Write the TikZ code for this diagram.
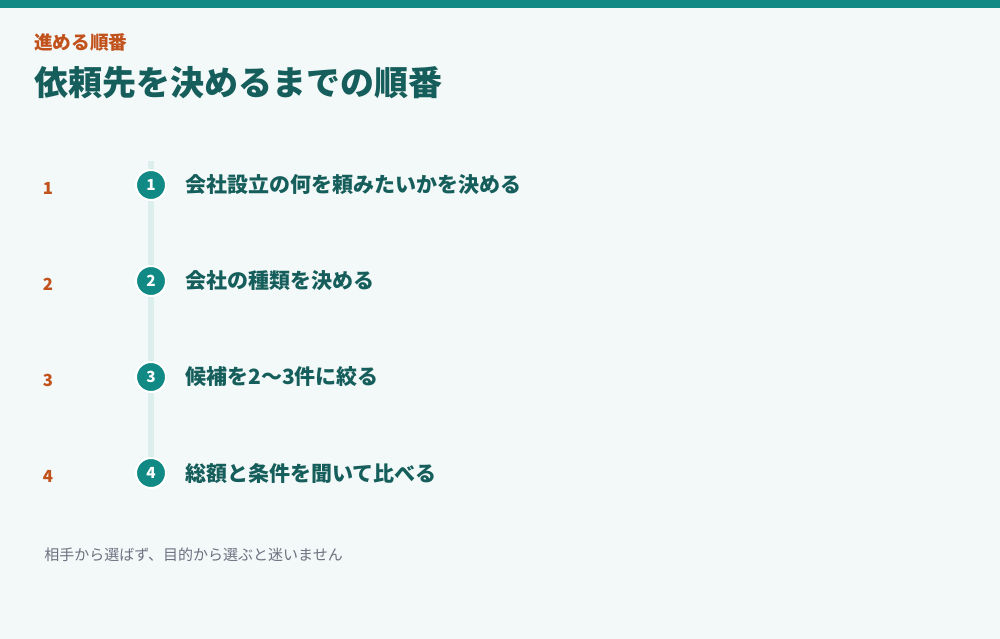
\documentclass[tikz,border=0pt]{standalone}
\usepackage{fontspec}
\setmainfont{Noto Sans CJK JP}
\definecolor{bgpale}{RGB}{243,248,248}
\definecolor{barteal}{RGB}{17,138,133}
\definecolor{darkteal}{RGB}{21,94,91}
\definecolor{rustorange}{RGB}{194,82,28}
\definecolor{railteal}{RGB}{220,239,237}
\definecolor{notegray}{RGB}{107,114,128}
\tikzset{
	stepdot/.style={circle, fill=barteal, draw=white, line width=1.5pt, minimum size=22.5pt, inner sep=0pt, text=white, font=\bfseries\fontsize{11.5}{11.5}\selectfont},
	stepnum/.style={text=rustorange, font=\bfseries\fontsize{12.5}{12.5}\selectfont},
	steptext/.style={anchor=west, inner sep=0pt, text=darkteal, font=\bfseries\fontsize{15.75}{16}\selectfont},
}
\begin{document}
\begin{tikzpicture}[x=0.75pt,y=0.75pt,yscale=-1,xscale=1]
		% page and top band
		\fill [bgpale] (0,0) rectangle (1000,639);
		\fill [barteal] (0,0) rectangle (1000,8);
		
		% headings
		\node [anchor=west, inner sep=0pt, text=rustorange, font=\bfseries\fontsize{14}{14}\selectfont] (kicker) at (34,42) {進める順番};
		\node [anchor=west, inner sep=0pt, text=darkteal, font=\bfseries\fontsize{25.5}{26}\selectfont] (title) at (34,83) {依頼先を決めるまでの順番};
		
		% rail
		\coordinate (railtop) at (151,161);
		\coordinate (railbot) at (151,460);
		\draw [railteal, line width=4.5pt] (railtop) -- (railbot);
		
		% steps
		\node [stepnum] (num1) at (48,188) {1};
		\node [stepdot] (dot1) at (151,185) {1};
		\node [steptext] (text1) at (185,185) {会社設立の何を頼みたいかを決める};
		
		\node [stepnum] (num2) at (48,284) {2};
		\node [stepdot] (dot2) at (151,281) {2};
		\node [steptext] (text2) at (185,281) {会社の種類を決める};
		
		\node [stepnum] (num3) at (48,380) {3};
		\node [stepdot] (dot3) at (151,377) {3};
		\node [steptext] (text3) at (185,377) {候補を2〜3件に絞る};
		
		\node [stepnum] (num4) at (48,476) {4};
		\node [stepdot] (dot4) at (151,473) {4};
		\node [steptext] (text4) at (185,473) {総額と条件を聞いて比べる};
		
		% footnote
		\node [anchor=west, inner sep=0pt, text=notegray, font=\fontsize{11.25}{12}\selectfont] (note) at (44,555) {相手から選ばず、目的から選ぶと迷いません};
		
\end{tikzpicture}
\end{document}
